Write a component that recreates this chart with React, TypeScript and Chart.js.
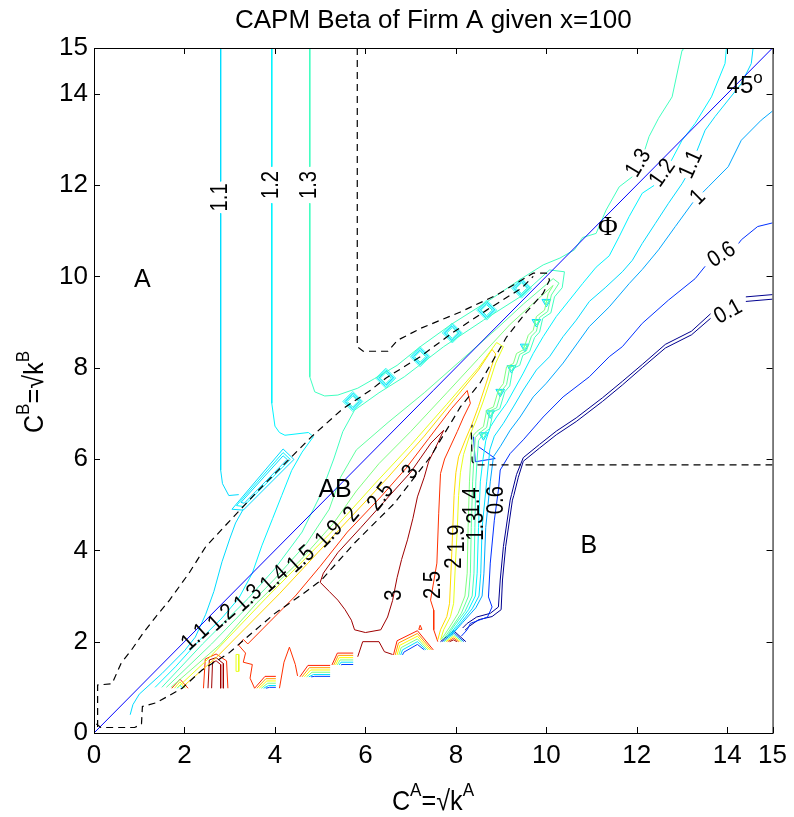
import React, { useEffect, useRef } from "react";
import { Chart, registerables } from "chart.js";

Chart.register(...registerables);

type Pt = [number, number];

const TITLE = "CAPM Beta of Firm A given x=100";
const X_TICKS = [0, 2, 4, 6, 8, 10, 12, 14, 15];
const Y_TICKS = [0, 2, 4, 6, 8, 10, 12, 14, 15];

// ---------- polylines (data units) ----------
const LINE_45: Pt[] = [[0, 0], [15, 15]];

const DASH_A_AB: Pt[] = [[5.82, 15], [5.82, 8.46], [5.95, 8.36], [6.5, 8.36], [6.71, 8.6], [7.22, 8.86], [8.1, 9.22], [8.9, 9.59], [9.71, 10.07], [10.0, 10.07], [10.07, 9.92], [9.93, 9.63], [9.56, 9.22], [9.12, 8.67], [8.53, 7.66], [8.1, 7.14], [7.62, 6.35], [7.44, 6.05], [6.64, 5.03], [5.76, 4.16], [5.03, 3.35], [4.58, 3.02], [4.0, 2.62], [3.49, 2.19], [2.98, 1.75], [2.39, 1.38], [1.95, 0.98], [1.37, 0.66], [1.07, 0.58], [1.05, 0.2], [0.9, 0.12], [0.15, 0.12], [0.05, 0.2]];
const DASH_UPPER: Pt[] = [[0.08, 0.13], [0.08, 1.05], [0.4, 1.08], [0.6, 1.53], [0.83, 1.82], [1.08, 2.18], [1.37, 2.55], [1.67, 2.91], [2.1, 3.5], [2.47, 4.08], [3.1, 4.75], [3.68, 5.36], [4.81, 6.49], [5.5, 7.1], [6.12, 7.51], [6.45, 7.77], [7.21, 8.24], [7.92, 8.76], [8.68, 9.26], [9.45, 9.74], [9.71, 10.0]];
const DASH_B: Pt[] = [[15, 5.87], [8.42, 5.87], [8.36, 5.95], [8.34, 6.6], [8.36, 6.75]];

// region A vertical contours (split where the inline label sits)
const C11_TOP: Pt[] = [[2.8, 15], [2.8, 12.08]];
const C11_A: Pt[] = [[2.8, 11.38], [2.8, 5.76], [2.84, 5.46], [2.98, 5.2], [3.2, 5.22]];
const C12_TOP: Pt[] = [[3.93, 15], [3.93, 12.4]];
const C12_A: Pt[] = [[3.93, 11.6], [3.93, 7.22], [4.0, 6.72], [4.1, 6.58], [4.22, 6.52], [4.74, 6.58], [4.85, 6.49], [4.6, 6.15], [4.37, 5.75], [4.15, 5.2], [3.95, 4.7], [3.71, 4.1], [3.5, 3.5], [3.2, 2.95], [2.83, 2.52], [2.3, 2.0], [1.8, 1.45], [1.35, 1.0]];
const C13_TOP: Pt[] = [[4.77, 15], [4.77, 12.4]];
const C13_A: Pt[] = [[4.77, 11.6], [4.77, 7.8], [4.88, 7.47], [5.1, 7.38], [5.39, 7.4], [5.83, 7.55], [6.2, 7.76], [6.7, 8.05], [7.2, 8.45], [7.9, 8.95], [8.7, 9.45], [9.45, 9.95], [9.93, 10.25], [10.3, 10.4], [10.62, 10.58], [10.8, 10.85], [11.1, 10.94], [11.32, 11.45], [11.61, 11.96], [11.9, 12.18]];
const C13_PHI: Pt[] = [[12.18, 12.78], [12.27, 13.06], [12.48, 13.46], [12.78, 13.93], [13.0, 14.95], [13.02, 15]];

const C11_STEEP: Pt[] = [[0.8, 0.4], [0.86, 0.62], [1.0, 0.85], [1.5, 1.3], [2.0, 1.8], [2.24, 2.1], [2.47, 2.6], [2.65, 3.1], [2.83, 3.75], [3.0, 4.25], [3.13, 4.6], [3.3, 4.9]];
const BOX_1: Pt[] = [[3.05, 4.9], [4.18, 6.22], [4.42, 5.99], [3.3, 4.88], [3.05, 4.9]];
const BOX_2: Pt[] = [[3.15, 4.98], [4.18, 6.14], [4.34, 5.99], [3.3, 4.96], [3.15, 4.98]];
const BOX_3: Pt[] = [[3.25, 5.05], [4.18, 6.07], [4.27, 5.99], [3.32, 5.03], [3.25, 5.05]];

// AB-region contours that wrap round the tip and run down the zig-zag band
const C13_AB: Pt[] = [[1.5, 1.0], [2.4, 1.95], [3.41, 2.95], [4.0, 3.6], [4.6, 4.4], [5.0, 5.2], [5.3, 6.0], [5.5, 6.6], [5.76, 7.07], [6.3, 7.45], [6.86, 7.8], [7.73, 8.46], [8.61, 9.04], [9.42, 9.55], [10.07, 10.14], [10.4, 10.1], [10.35, 9.75], [10.18, 9.55], [10.1, 9.2], [9.92, 9.08], [9.85, 8.78], [9.74, 8.66], [9.63, 8.35], [9.48, 8.27], [9.41, 8.05], [9.26, 7.98], [9.19, 7.6], [9.08, 7.47], [8.97, 7.1], [8.82, 7.03], [8.75, 6.67], [8.6, 6.55], [8.5, 6.4], [8.47, 6.0], [8.44, 5.5], [8.42, 4.5], [8.4, 3.5], [8.36, 3.0], [8.2, 2.66], [7.96, 2.34], [7.78, 2.08]];
const C14_AB: Pt[] = [[1.6, 1.0], [2.6, 1.95], [3.99, 3.37], [4.7, 4.15], [5.2, 4.9], [5.45, 5.6], [5.8, 6.2], [6.5, 6.8], [7.3, 7.45], [8.1, 8.15], [8.9, 8.85], [9.5, 9.4], [10.15, 9.95], [10.28, 9.85], [10.11, 9.59], [10.03, 9.23], [9.85, 9.1], [9.78, 8.8], [9.67, 8.69], [9.56, 8.37], [9.41, 8.29], [9.34, 8.07], [9.19, 8.0], [9.12, 7.63], [9.01, 7.49], [8.9, 7.12], [8.75, 7.05], [8.68, 6.69], [8.53, 6.58], [8.43, 6.47], [8.4, 6.05], [8.37, 5.5], [8.34, 4.5], [8.32, 3.5], [8.28, 3.0], [8.12, 2.62], [7.9, 2.3], [7.72, 2.05]];
const C15_AB: Pt[] = [[1.7, 1.0], [2.8, 1.95], [3.6, 2.85], [4.58, 3.8], [5.3, 4.6], [5.8, 5.3], [6.3, 5.9], [7.0, 6.6], [7.8, 7.45], [8.5, 8.2], [9.2, 8.95], [9.7, 9.4], [10.15, 9.8], [10.04, 9.62], [9.96, 9.26], [9.78, 9.12], [9.71, 8.82], [9.6, 8.71], [9.49, 8.39], [9.34, 8.31], [9.27, 8.09], [9.12, 8.02], [9.05, 7.65], [8.94, 7.51], [8.83, 7.14], [8.68, 7.07], [8.61, 6.71], [8.46, 6.6], [8.36, 6.49], [8.33, 6.05], [8.3, 5.5], [8.27, 4.5], [8.25, 3.5], [8.2, 3.0], [8.05, 2.62], [7.85, 2.3], [7.68, 2.05]];
const C19_AB: Pt[] = [[1.85, 1.0], [2.5, 1.6], [3.8, 2.95], [5.2, 4.35], [6.2, 5.45], [7.0, 6.3], [7.8, 7.2], [8.5, 8.0], [8.9, 8.55], [9.05, 8.46], [8.88, 8.1], [8.75, 7.7], [8.6, 7.25], [8.45, 6.85], [8.3, 6.5], [8.17, 6.1], [8.1, 5.7], [8.06, 5.2], [8.03, 4.45], [7.99, 3.72], [7.95, 2.84], [7.88, 2.55], [7.73, 2.26], [7.66, 2.04]];
const C2_AB: Pt[] = [[1.95, 1.0], [2.7, 1.65], [4.1, 3.05], [5.7, 4.75], [6.5, 5.6], [7.3, 6.5], [8.0, 7.35], [8.5, 7.95], [8.8, 8.4], [8.88, 8.3], [8.78, 8.0], [8.65, 7.6], [8.5, 7.15], [8.35, 6.75], [8.2, 6.4], [8.06, 6.05], [8.0, 5.7], [7.96, 5.2], [7.93, 4.45], [7.9, 3.72], [7.86, 2.84], [7.8, 2.55], [7.66, 2.26], [7.6, 2.04]];
const C25_AB: Pt[] = [[3.55, 0.98], [3.45, 1.2], [3.5, 1.5], [3.3, 1.55], [3.35, 1.75], [3.2, 1.92], [3.3, 2.05], [3.4, 1.95], [3.9, 2.45], [4.45, 3.0], [5.0, 3.65], [5.6, 4.4], [6.34, 5.17], [6.9, 5.8], [7.4, 6.45], [7.9, 7.1], [8.25, 7.5], [8.32, 7.22], [8.17, 6.92], [8.03, 6.6], [7.75, 6.0], [7.66, 5.68], [7.62, 4.8], [7.58, 3.72], [7.44, 2.91], [7.51, 2.69], [7.51, 2.26], [7.6, 2.0]];
const C3_AB: Pt[] = [[7.73, 6.63], [7.45, 6.35], [7.0, 5.71], [6.4, 5.05], [5.9, 4.5], [5.39, 3.95], [5.07, 3.5], [5.0, 3.3], [5.2, 3.1], [5.39, 2.91], [5.55, 2.7], [5.69, 2.47], [5.76, 2.26], [6.0, 2.2], [6.34, 2.26], [6.49, 2.54], [6.6, 2.9], [6.7, 3.4], [6.8, 3.8], [6.93, 4.23], [7.05, 4.7], [7.15, 5.17], [7.3, 5.6], [7.4, 5.95], [7.6, 6.35], [7.73, 6.63]];

// Phi-region contours (split at inline labels)
const C12_PHI_TOP: Pt[] = [[13.98, 15], [13.95, 14.66], [13.65, 13.93], [13.29, 13.35], [13.0, 12.98], [12.76, 12.53]];
const C12_PHI: Pt[] = [[12.38, 11.99], [12.12, 11.82], [11.83, 11.31], [11.61, 10.87], [11.39, 10.45], [11.1, 10.2], [10.8, 9.84], [10.51, 9.48], [10.22, 9.12], [9.93, 8.68], [9.71, 8.31], [9.49, 7.88], [9.12, 7.22], [8.9, 6.92], [8.76, 6.7], [8.66, 6.4], [8.6, 6.0], [8.54, 5.5], [8.5, 4.5], [8.47, 3.5], [8.43, 3.0], [8.28, 2.7], [8.04, 2.38], [7.82, 2.1]];
const C11_PHI_TOP: Pt[] = [[14.57, 15], [14.53, 14.66], [14.31, 14.22], [14.02, 13.86], [13.73, 13.5], [13.51, 13.2], [13.33, 12.75]];
const C11_PHI: Pt[] = [[13.07, 12.15], [13.0, 12.03], [12.7, 11.6], [12.41, 11.16], [12.12, 10.72], [11.9, 10.35], [11.68, 10.1], [11.3, 9.75], [10.95, 9.45], [10.66, 9.04], [10.37, 8.68], [10.07, 8.24], [9.78, 7.95], [9.49, 7.51], [9.27, 7.14], [9.05, 6.78], [8.85, 6.5], [8.75, 6.2], [8.68, 5.5], [8.58, 4.5], [8.55, 3.5], [8.51, 3.0], [8.36, 2.72], [8.1, 2.4], [7.86, 2.12]];
const C1_TOP: Pt[] = [[15, 13.62], [14.75, 13.42], [14.31, 12.98], [14.02, 12.4], [13.58, 11.96], [13.46, 11.84]];
const C1_PHI: Pt[] = [[13.24, 11.62], [12.85, 11.09], [12.48, 10.58], [12.12, 10.15], [11.83, 9.84], [11.39, 9.33], [10.95, 8.9], [10.37, 8.1], [10.0, 7.66], [9.71, 7.36], [9.42, 6.92], [9.2, 6.63], [8.98, 6.27], [8.83, 6.05], [8.76, 5.5], [8.66, 4.5], [8.62, 3.5], [8.58, 3.0], [8.44, 2.74], [8.15, 2.42], [7.9, 2.14]];
const C06_TOP: Pt[] = [[15, 11.17], [14.67, 11.09], [14.31, 10.8], [14.25, 10.72]];
const C06_PHI: Pt[] = [[13.51, 10.22], [13.29, 9.95], [12.7, 9.48], [12.12, 8.97], [11.68, 8.46], [11.39, 8.24], [10.95, 7.8], [10.37, 7.36], [9.93, 6.92], [9.49, 6.42], [9.2, 6.12], [8.98, 5.76], [8.94, 5.32], [8.85, 4.66], [8.76, 3.72], [8.72, 2.98], [8.8, 2.76], [8.7, 2.54], [8.32, 2.4], [8.25, 2.26], [8.12, 2.12]];
const C06_HOOK: Pt[] = [[8.39, 6.49], [8.43, 5.94], [8.87, 6.01], [8.5, 6.27]];
const C01A_TOP: Pt[] = [[15, 9.6], [14.41, 9.55]];
const C01A: Pt[] = [[13.63, 9.18], [13.21, 8.8], [12.63, 8.51], [12.12, 8.07], [11.68, 7.7], [11.24, 7.34], [10.66, 6.9], [10.22, 6.61], [9.85, 6.32], [9.49, 6.03], [9.34, 5.66], [9.23, 5.22], [9.2, 5.1], [9.05, 4.08], [8.98, 3.35], [8.94, 2.76], [8.76, 2.62], [8.46, 2.54], [8.25, 2.4], [8.15, 2.3]];
const C01B_TOP: Pt[] = [[15, 9.5], [14.41, 9.45]];
const C01B: Pt[] = [[13.63, 9.08], [13.21, 8.72], [12.63, 8.43], [12.12, 8.0], [11.68, 7.62], [11.24, 7.26], [10.66, 6.82], [10.22, 6.53], [9.85, 6.24], [9.49, 5.95], [9.38, 5.6], [9.28, 5.2], [9.25, 5.1], [9.1, 4.08], [9.03, 3.35], [9.0, 2.7], [8.8, 2.55], [8.5, 2.48], [8.3, 2.34], [8.2, 2.25]];

// bottom-edge fragments
const DR_SPIKE_1: Pt[] = [[2.52, 0.98], [2.55, 1.6], [2.7, 1.65], [2.86, 1.52], [2.86, 0.98]];
const DR_SPIKE_2: Pt[] = [[2.6, 0.98], [2.62, 1.55], [2.7, 1.58], [2.8, 1.5], [2.8, 0.98]];
const RED_HUMP: Pt[] = [[2.42, 0.98], [2.46, 1.62], [2.7, 1.73], [2.93, 1.58], [2.96, 0.98]];
const YEL_LOOP: Pt[] = [[3.14, 1.35], [3.14, 1.72], [3.2, 1.72], [3.2, 1.35], [3.14, 1.35]];
const RED_JAG: Pt[] = [[4.1, 0.98], [4.2, 1.55], [4.32, 1.88], [4.45, 1.5], [4.5, 1.25]];
const DR_BITS: Pt[] = [[5.83, 1.67], [5.94, 2.0], [6.3, 2.0], [6.42, 1.78], [6.6, 1.72]];
const RED_TRI: Pt[] = [[7.18, 2.27], [7.21, 2.36], [7.25, 2.27], [7.18, 2.27]];
const S0_R: Pt[] = [[1.72, 0.98], [1.9, 1.18], [2.08, 0.98]];
const S0_Y: Pt[] = [[1.78, 0.98], [1.9, 1.12], [2.02, 0.98]];
const S0_C: Pt[] = [[1.84, 0.98], [1.9, 1.05], [1.96, 0.98]];

// stacked bunches of contours along the lower data edge (red -> blue)
const S1: Pt[][] = [
  [[3.55, 0.98], [3.78, 1.24], [4.02, 1.24]],
  [[3.6, 0.98], [3.8, 1.19], [4.02, 1.19]],
  [[3.65, 0.98], [3.82, 1.14], [4.02, 1.14]],
  [[3.7, 0.98], [3.84, 1.09], [4.02, 1.09]],
  [[3.75, 0.98], [3.86, 1.04], [4.02, 1.04]],
  [[3.8, 0.98], [3.88, 1.0], [4.02, 1.0]],
];
const S2: Pt[][] = [
  [[4.55, 1.23], [4.73, 1.48], [5.22, 1.48]],
  [[4.6, 1.23], [4.76, 1.43], [5.22, 1.43]],
  [[4.65, 1.23], [4.79, 1.38], [5.22, 1.38]],
  [[4.7, 1.23], [4.82, 1.33], [5.22, 1.33]],
  [[4.75, 1.23], [4.85, 1.28], [5.22, 1.28]],
  [[4.8, 1.23], [4.88, 1.24], [5.22, 1.24]],
];
const S3: Pt[][] = [
  [[5.26, 1.49], [5.38, 1.75], [5.73, 1.75]],
  [[5.3, 1.49], [5.4, 1.7], [5.73, 1.7]],
  [[5.34, 1.49], [5.42, 1.65], [5.73, 1.65]],
  [[5.38, 1.49], [5.44, 1.6], [5.73, 1.6]],
  [[5.42, 1.49], [5.46, 1.55], [5.73, 1.55]],
  [[5.46, 1.49], [5.48, 1.5], [5.73, 1.5]],
];
const S4: Pt[][] = [
  [[6.62, 1.71], [6.7, 2.02], [7.15, 2.24], [7.5, 1.82]],
  [[6.66, 1.71], [6.73, 1.97], [7.15, 2.18], [7.46, 1.82]],
  [[6.7, 1.71], [6.76, 1.92], [7.15, 2.12], [7.42, 1.82]],
  [[6.74, 1.71], [6.79, 1.87], [7.15, 2.06], [7.38, 1.82]],
  [[6.78, 1.71], [6.82, 1.82], [7.15, 2.0], [7.34, 1.82]],
  [[6.82, 1.71], [6.85, 1.77], [7.15, 1.94], [7.3, 1.82]],
];
const S5: Pt[][] = [
  [[7.86, 2.0], [7.95, 2.04], [8.02, 2.0]],
  [[7.82, 2.0], [7.95, 2.08], [8.06, 2.0]],
  [[7.78, 2.0], [7.95, 2.12], [8.1, 2.0]],
  [[7.74, 2.0], [7.95, 2.16], [8.14, 2.0]],
  [[7.7, 2.0], [7.95, 2.2], [8.18, 2.0]],
  [[7.66, 2.0], [7.95, 2.24], [8.22, 2.0]],
];

// small closed contours drawn as point markers
const DIAMONDS: Pt[] = [[5.72, 7.26], [6.45, 7.77], [7.21, 8.24], [7.92, 8.76], [8.68, 9.26], [9.45, 9.74]];
const TRIANGLES: Pt[] = [[10.0, 9.44], [9.78, 9.0], [9.52, 8.46], [9.23, 7.99], [8.98, 7.47], [8.76, 7.0], [8.61, 6.52]];

// inline labels: text, x, y, angle (deg)
const CONTOUR_LABELS: [string, number, number, number][] = [
  ["1.1", 2.8, 11.73, -90], ["1.2", 3.93, 12.0, -90], ["1.3", 4.77, 12.0, -90],
  ["1.3", 12.04, 12.48, -59], ["1.2", 12.57, 12.26, -55], ["1.1", 13.2, 12.45, -66],
  ["1", 13.35, 11.73, -45], ["0.6", 13.88, 10.47, -32], ["0.1", 14.02, 9.22, -29],
  ["1.1", 2.24, 2.1, -42], ["1.2", 2.83, 2.52, -42], ["1.3", 3.41, 2.95, -42],
  ["1.4", 3.99, 3.37, -42], ["1.5", 4.58, 3.8, -42], ["1.9", 5.2, 4.35, -45],
  ["2", 5.7, 4.78, -50], ["2.5", 6.34, 5.17, -52], ["3", 7.0, 5.71, -55],
  ["1.4", 8.36, 5.07, -90], ["1.3", 8.46, 4.52, -90], ["0.6", 8.9, 5.1, -90],
  ["2", 7.98, 3.72, -90], ["1.9", 8.03, 4.26, -90], ["2.5", 7.51, 3.24, -90], ["3", 6.64, 3.02, -90],
];
const REGION_LABELS: [string, number, number][] = [["A", 1.07, 9.92], ["AB", 5.33, 5.32], ["B", 10.94, 4.09]];
const PHI_LABEL: [string, number, number] = ["\u03A6", 11.36, 11.06];
const DEG_LABEL: [string, number, number] = ["45", 14.28, 14.15];

// ---------- styles ----------
const FONT = "'Liberation Sans', Arial, Helvetica, sans-serif";
const COL = {
  c01: "#00008F", c06: "#0030FF", c1: "#00A8FF", c11: "#00DCFF", c12: "#00F4FF",
  c13: "#40FFC0", c14: "#60FFA0", c15: "#80FF80", c19: "#E8FF18", c2: "#FFD800",
  c25: "#FF3000", c3: "#9F0000", diag: "#0000FF",
};
const STACK_COLS = ["#FF2000", "#FF9F00", "#FFFF00", "#80FF80", "#00DFFF", "#0040FF"];
const STACK5_COLS = ["#9F0000", "#FF6000", "#FFFF00", "#40FFC0", "#0060FF", "#00008F"];

type Spec = { pts: Pt[]; color: string; dash?: boolean };

const SERIES: Spec[] = [
  { pts: DASH_A_AB, color: "#000", dash: true },
  { pts: DASH_UPPER, color: "#000", dash: true },
  { pts: DASH_B, color: "#000", dash: true },
  { pts: LINE_45, color: COL.diag },
  { pts: C11_TOP, color: COL.c11 }, { pts: C11_A, color: COL.c11 }, { pts: C11_STEEP, color: COL.c11 },
  { pts: BOX_1, color: COL.c11 }, { pts: BOX_2, color: COL.c12 }, { pts: BOX_3, color: COL.c11 },
  { pts: C12_TOP, color: COL.c12 }, { pts: C12_A, color: COL.c12 },
  { pts: C13_TOP, color: COL.c13 }, { pts: C13_A, color: COL.c13 }, { pts: C13_PHI, color: COL.c13 },
  { pts: C13_AB, color: COL.c13 }, { pts: C14_AB, color: COL.c14 }, { pts: C15_AB, color: COL.c15 },
  { pts: C19_AB, color: COL.c19 }, { pts: C2_AB, color: COL.c2 },
  { pts: C25_AB, color: COL.c25 }, { pts: C3_AB, color: COL.c3 },
  { pts: C12_PHI_TOP, color: COL.c12 }, { pts: C12_PHI, color: COL.c12 },
  { pts: C11_PHI_TOP, color: COL.c11 }, { pts: C11_PHI, color: COL.c11 },
  { pts: C1_TOP, color: COL.c1 }, { pts: C1_PHI, color: COL.c1 },
  { pts: C06_TOP, color: COL.c06 }, { pts: C06_PHI, color: COL.c06 }, { pts: C06_HOOK, color: COL.c06 },
  { pts: C01A_TOP, color: COL.c01 }, { pts: C01A, color: COL.c01 },
  { pts: C01B_TOP, color: COL.c01 }, { pts: C01B, color: COL.c01 },
  { pts: DR_SPIKE_1, color: COL.c3 }, { pts: DR_SPIKE_2, color: COL.c3 }, { pts: RED_HUMP, color: COL.c25 },
  { pts: YEL_LOOP, color: COL.c19 }, { pts: RED_JAG, color: COL.c25 }, { pts: DR_BITS, color: COL.c3 },
  { pts: RED_TRI, color: COL.c25 },
  { pts: S0_R, color: COL.c25 }, { pts: S0_Y, color: COL.c19 }, { pts: S0_C, color: COL.c12 },
  ...S1.map((p, i) => ({ pts: p, color: STACK_COLS[i] })),
  ...S2.map((p, i) => ({ pts: p, color: STACK_COLS[i] })),
  ...S3.map((p, i) => ({ pts: p, color: STACK_COLS[i] })),
  ...S4.map((p, i) => ({ pts: p, color: STACK_COLS[i] })),
  ...S5.map((p, i) => ({ pts: p, color: STACK5_COLS[i] })),
];

const toXY = (pts: Pt[]) => pts.map(([x, y]) => ({ x, y }));

function drawSuper(ctx: CanvasRenderingContext2D, parts: [string, boolean][], cx: number, cy: number, rot: number) {
  const big = `28px ${FONT}`;
  const small = `19px ${FONT}`;
  const sx = 0.9;
  const widths = parts.map(([t, s]) => { ctx.font = s ? small : big; return ctx.measureText(t).width; });
  const total = widths.reduce((a, b) => a + b, 0);
  ctx.save();
  ctx.translate(cx, cy);
  ctx.rotate(rot);
  ctx.scale(sx, 1);
  ctx.textAlign = "left";
  ctx.textBaseline = "alphabetic";
  let x = -total / 2;
  parts.forEach(([t, s], i) => {
    ctx.font = s ? small : big;
    ctx.fillText(t, x, s ? -14 : 0);
    x += widths[i];
  });
  ctx.restore();
}

const overlay = {
  id: "overlay",
  beforeDraw(chart: any) {
    const ctx = chart.ctx;
    ctx.save();
    ctx.fillStyle = "#fff";
    ctx.fillRect(0, 0, chart.width, chart.height);
    ctx.restore();
  },
  afterDraw(chart: any) {
    const ctx: CanvasRenderingContext2D = chart.ctx;
    const a = chart.chartArea;
    const xs = chart.scales.x;
    const ys = chart.scales.y;
    ctx.save();
    ctx.fillStyle = "#000";
    ctx.textAlign = "center";
    ctx.textBaseline = "middle";
    for (const [t, x, y, ang] of CONTOUR_LABELS) {
      ctx.save();
      ctx.translate(xs.getPixelForValue(x), ys.getPixelForValue(y));
      ctx.rotate((ang * Math.PI) / 180);
      ctx.scale(0.88, 1);
      ctx.font = `23px ${FONT}`;
      ctx.fillText(t, 0, 0);
      ctx.restore();
    }
    ctx.font = `25px ${FONT}`;
    for (const [t, x, y] of REGION_LABELS) ctx.fillText(t, xs.getPixelForValue(x), ys.getPixelForValue(y));
    ctx.font = `27px 'Liberation Serif', 'Times New Roman', serif`;
    ctx.fillText(PHI_LABEL[0], xs.getPixelForValue(PHI_LABEL[1]), ys.getPixelForValue(PHI_LABEL[2]));
    ctx.font = `24px ${FONT}`;
    const dx = xs.getPixelForValue(DEG_LABEL[1]);
    const dy = ys.getPixelForValue(DEG_LABEL[2]);
    ctx.fillText(DEG_LABEL[0], dx, dy);
    ctx.font = `17px ${FONT}`;
    ctx.fillText("o", dx + 18, dy - 9);

    // axes box with inward ticks on all four sides
    ctx.strokeStyle = "#000";
    ctx.lineWidth = 1;
    ctx.strokeRect(a.left + 0.5, a.top + 0.5, a.right - a.left, a.bottom - a.top);
    ctx.beginPath();
    for (const v of X_TICKS) {
      const p = Math.round(xs.getPixelForValue(v)) + 0.5;
      ctx.moveTo(p, a.bottom); ctx.lineTo(p, a.bottom - 6);
      ctx.moveTo(p, a.top); ctx.lineTo(p, a.top + 6);
    }
    for (const v of Y_TICKS) {
      const p = Math.round(ys.getPixelForValue(v)) + 0.5;
      ctx.moveTo(a.left, p); ctx.lineTo(a.left + 6, p);
      ctx.moveTo(a.right, p); ctx.lineTo(a.right - 6, p);
    }
    ctx.stroke();

    // title and axis titles
    ctx.font = `26px ${FONT}`;
    ctx.textAlign = "center";
    ctx.textBaseline = "middle";
    ctx.fillText(TITLE, (a.left + a.right) / 2, 21);
    drawSuper(ctx, [["C", false], ["A", true], ["=\u221Ak", false], ["A", true]], 433, 810, 0);
    drawSuper(ctx, [["C", false], ["B", true], ["=\u221Ak", false], ["B", true]], 43, 392, -Math.PI / 2);
    ctx.restore();
  },
};

export default function App() {
  const ref = useRef<HTMLCanvasElement | null>(null);
  useEffect(() => {
    if (!ref.current) return;
    const lineSets = SERIES.map((s) => ({
      data: toXY(s.pts),
      showLine: true,
      borderColor: s.color,
      backgroundColor: s.color,
      borderWidth: s.dash ? 1.2 : 1,
      borderDash: s.dash ? [7, 5] : [],
      pointRadius: 0,
      pointHoverRadius: 0,
      fill: false,
      tension: 0,
    }));
    const diamondSets = [10, 8.5, 7, 5.5].map((r, i) => ({
      data: toXY(DIAMONDS),
      showLine: false,
      pointStyle: "rectRot",
      pointRadius: r,
      pointHoverRadius: r,
      borderColor: ["#40FFF0", "#00F0FF", "#00DCFF", "#20FFE0"][i],
      backgroundColor: "rgba(0,0,0,0)",
      borderWidth: 1,
    }));
    const triSets = [5, 3].map((r, i) => ({
      data: toXY(TRIANGLES),
      showLine: false,
      pointStyle: "triangle",
      pointRadius: r,
      pointHoverRadius: r,
      rotation: 180,
      borderColor: ["#00DCFF", "#40FFC0"][i],
      backgroundColor: "rgba(0,0,0,0)",
      borderWidth: 1,
    }));
    const tickFont = { family: FONT, size: 26 };
    const chart = new Chart(ref.current, {
      type: "scatter",
      data: { datasets: [...lineSets, ...diamondSets, ...triSets] as any },
      options: {
        animation: false,
        responsive: false,
        devicePixelRatio: 1,
        events: [],
        layout: { padding: { top: 48, right: 16, left: 0, bottom: 0 } },
        plugins: { legend: { display: false }, tooltip: { enabled: false }, title: { display: false } },
        scales: {
          x: {
            type: "linear", min: 0, max: 15, position: "bottom",
            afterBuildTicks: (s: any) => { s.ticks = X_TICKS.map((value) => ({ value })); },
            afterFit: (s: any) => { s.height = 84; },
            ticks: { autoSkip: false, maxRotation: 0, padding: 7, color: "#000", font: tickFont, callback: (v: any) => String(v) },
            grid: { display: false, drawTicks: false },
            border: { display: false },
          },
          y: {
            type: "linear", min: 0, max: 15, position: "left",
            afterBuildTicks: (s: any) => { s.ticks = Y_TICKS.map((value) => ({ value })); },
            afterFit: (s: any) => { s.width = 94; },
            ticks: { autoSkip: false, padding: 6, color: "#000", font: tickFont, callback: (v: any) => String(v) },
            grid: { display: false, drawTicks: false },
            border: { display: false },
          },
        },
      } as any,
      plugins: [overlay],
    });
    return () => chart.destroy();
  }, []);
  return (
    <div style={{ position: "absolute", left: 0, top: 0, width: 794, height: 817, background: "#fff" }}>
      <canvas ref={ref} width={794} height={817} style={{ display: "block", width: 794, height: 817 }} />
    </div>
  );
}
